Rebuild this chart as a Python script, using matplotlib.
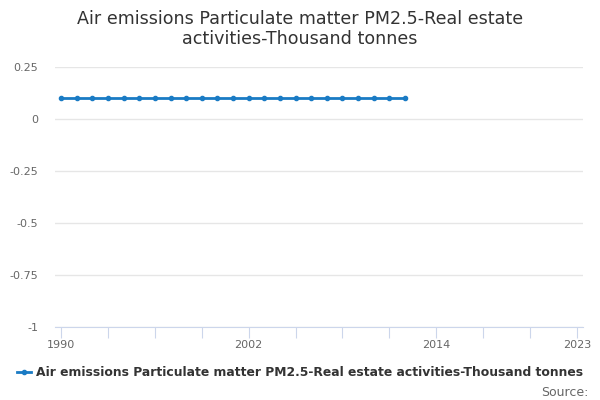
import matplotlib.pyplot as plt
import numpy as np

years = list(range(1990, 2013))
values = [0.1] * len(years)
series_name = "Air emissions Particulate matter PM2.5-Real estate activities-Thousand tonnes"
title = "Air emissions Particulate matter PM2.5-Real estate\nactivities-Thousand tonnes"
y_ticks = [0.25, 0, -0.25, -0.5, -0.75, -1]
y_labels = ["0.25", "0", "-0.25", "-0.5", "-0.75", "-1"]
x_labels = {1990: "1990", 2002: "2002", 2014: "2014", 2023: "2023"}

fig = plt.figure(figsize=(6, 4), dpi=100)
ax = fig.add_axes([55 / 600, 1 - 327 / 400, (583 - 55) / 600, (327 - 67) / 400])

line_color = "#1a7bc4"
ax.plot(years, values, '-o', color=line_color, linewidth=2, markersize=3)

ax.set_xlim(1989.6, 2023.4)
ax.set_ylim(-1, 0.25)
ax.set_yticks(y_ticks)
ax.set_yticklabels(y_labels)
xt = list(range(1990, 2024, 3))
ax.set_xticks(xt)
ax.set_xticklabels([x_labels.get(x, "") for x in xt])

ax.grid(axis='y', color='#e6e6e6', linewidth=1)
ax.set_axisbelow(True)
for s in ['top', 'right', 'left']:
    ax.spines[s].set_visible(False)
ax.spines['bottom'].set_color('#ccd6eb')
ax.tick_params(axis='y', length=0, labelsize=8, labelcolor='#666666', pad=12)
ax.tick_params(axis='x', length=8, color='#ccd6eb', labelsize=8, labelcolor='#666666', pad=1)

fig.suptitle(title, x=0.5, y=0.975, fontsize=12.6, color='#333333', va='top', linespacing=1.15)

fig.legend(handles=ax.lines, labels=[series_name], loc='center', bbox_to_anchor=(0.5, 1 - 373 / 400),
           frameon=False, prop={'weight': 'bold', 'size': 8.9}, labelcolor='#333333',
           handlelength=1.2, handletextpad=0.4)
fig.text(588 / 600, 1 - 392 / 400, "Source:", ha='right', va='center', fontsize=9, color='#666666')

plt.savefig("out.png", dpi=100)
